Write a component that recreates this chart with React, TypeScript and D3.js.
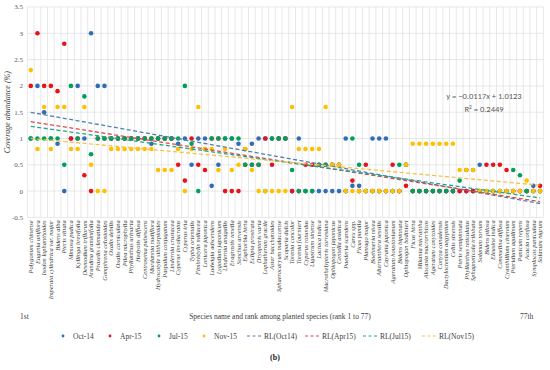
import React from "react";
import * as d3 from "d3";

// species, ranked 1..77
const species = [
  "Polygonum chinense", "Eugenia uniflora", "Isodon lophanthoides", "Imperata cylindrica var. major",
  "Bidens alba", "Pteris vittata", "Mimosa pudica", "Kyllinga brevifolia", "Desmodium triflorum",
  "Arundina graminifolia", "Praxelis clematidea", "Gomphrena celosioides", "Oxalis debilis",
  "Oxalis corniculata", "Pilea microphylla", "Phyllanthus urinaria", "Hedyotis diffusa",
  "Centrosema pubescens", "Murdannia nudiflora", "Hydrocotyle sibthorpioides", "Paspalum conjugatum",
  "Lindernia crustacea", "Cyperus involucratus", "Cyperus iria", "Typha orientalis",
  "Fimbristylis miliacea", "Lonicera japonica", "Ludwigia adscendens", "Lygodium japonicum",
  "Lindernia anagallis", "Eragrostis tenella", "Sonchus arvensis", "Euphorbia hirta",
  "Eclipta prostrata", "Dryopteris varia", "Lophatherum gracile", "Aster baccharoides",
  "Sphaerocaryum malaccense", "Scoparia dulcis", "Torenia concolor", "Torenia fournieri",
  "Cyperus rotundus", "Ligustrum sinense", "Lactuca indica", "Macrothelypteris torresiana",
  "Ophiopogon japonicus", "Centella asiatica", "Paederia scandens", "Carex spp.", "Ficus pumila",
  "Plantago major", "Boehmeria nivea", "Alternanthera sessilis", "Cayratia japonica",
  "Ageratum houstonianum", "Bidens bipinnata", "Ophiopogon bodinieri", "Ficus hirta",
  "Mikania micrantha", "Alocasia macrorrhizos", "Ageratum conyzoides", "Conyza canadensis",
  "Dactyloctenium aegyptium", "Celtis sinensis", "Pteris semipinnata", "Phyllanthus reticulatus",
  "Sphagneticola trilobata", "Solanum torvum", "Bidens pilosa", "Eleusine indica",
  "Commelina diffusa", "Cyanthillium cinereum", "Pteridium aquilinum", "Panicum repens",
  "Acacia confusa", "Symplocos paniculata", "Solanum nigrum",
];

const oct14 = [
  1, 2, 1.5, 1, 0.9, 0, 1, 2, 1, 3, 2, 2, 1, 1, 1, 1, 1, 1, 0.9, 1,
  1, 1, 0.9, 1, 0.5, 1, 1, 0.1, 0.5, 1, 1, 0.9, 0.8, 0.9, 1, 1, 1, 1, 1, 0,
  1, 0, 0, 0, 0, 0, 0, 1, 0.1, 0.1, 0, 1, 1, 1, 0, 0, 0.5, 0, 0, 0,
  0, 0, 0, 0, 0, 0, 0, 0.5, 0, 0, 0, 0, 0, 0, 0, 0.1, 0,
];
const apr15 = [
  2, 3, 2, 2, 1.9, 2.8, 1, 1, 0.3, 0, 1, 1, 1, 1, 1, 1, 1, 1, 1, 1,
  1, 1, 0.5, 0.2, 1, 0.5, 0.4, 1, 1, 0, 0, 0, 0.5, 0.5, 0.5, 1, 0.5, 1, 1, 0,
  0, 0.5, 0.5, 0.5, 0.5, 0.5, 0.5, 0, 0.2, 0, 0.5, 0, 0, 0, 0.5, 0, 0.1, 0, 0, 0,
  0, 0, 0, 0, 0, 0, 0, 0, 0.5, 0.5, 0.5, 0.4, 0, 0, 0, 0, 0.1,
];
const jul15 = [
  1, 1, 1, 1, 1, 0.5, 2, 1, 1.8, 0.7, 1, 1, 1, 1, 1, 1, 1, 1, 1, 1,
  1, 1, 1, 2, 0.9, 0, 0.8, 1, 1, 1, 1, 1, 0.5, 0.5, 0.5, 0, 1, 1, 1, 0.4,
  0, 0, 0, 0.5, 0.5, 0.5, 0.5, 0, 1, 0.5, 0, 0, 0, 0, 0, 0.5, 0.5, 0, 0, 0,
  0, 0, 0, 0, 0.2, 0.4, 0.4, 0, 0, 0, 0, 0, 0.4, 0.3, 0, 0, 0,
];
const nov15 = [
  2.3, 0.8, 1.6, 0.8, 1.6, 1.6, 0.8, 0.8, 1.6, 0.5, 0, 0, 0.8, 0.8, 0.8, 0.8, 0.8, 0.8, 0.8, 0.4,
  0.4, 0.4, 0.8, 0, 0.8, 1.6, 0.8, 0.8, 0.4, 0.8, 0.4, 0.5, 0.8, 0.4, 0, 0, 0, 0, 0, 1.6,
  0.8, 0.8, 0.8, 0.8, 1.6, 0.5, 0.5, 0, 0, 0, 0, 0, 0, 0, 0, 0, 0.5, 0.9, 0.9, 0.9,
  0.9, 0.9, 0.9, 0.9, 0.4, 0.4, 0.4, 0, 0, 0, 0, 0, 0, 0, 0.2, 0, 0,
];

// trend lines (y = slope * rank + intercept)
const rlNames = ["RL(Oct14)", "RL(Apr15)", "RL(Jul15)", "RL(Nov15)"];
const rlSlope = [-0.0228, -0.02, -0.0179, -0.0117];
const rlIntercept = [1.52, 1.34, 1.248, 1.0123];

const seriesNames = ["Oct-14", "Apr-15", "Jul-15", "Nov-15"];
const yTicks = [-0.5, 0, 0.5, 1, 1.5, 2, 2.5, 3, 3.5];

const dotColors = ["#2f6db5", "#e5141c", "#00a05a", "#ffc000"];
const lineColors = ["#4f7fae", "#df4a4e", "#1fa58c", "#f3c24c"];

const serif = "'Liberation Serif', 'Times New Roman', serif";
const sans = "Carlito, Calibri, 'Liberation Sans', Arial, sans-serif";

export default function App() {
  const W = 550, H = 370;
  const x = d3.scaleBand<string>().domain(species).range([27.4, 543.4]);
  const y = d3.scaleLinear().domain([-0.5, 3.5]).range([217.4, 7]);
  const cx = (i: number) => (x(species[i]) as number) + x.bandwidth() / 2;

  const series = [oct14, apr15, jul15, nov15];
  const ranks = [1, species.length];

  const [x0, x1] = x.range();
  const gridX = species.map((s) => x(s) as number).concat([x1]);

  const legendDots = [63, 110, 159, 204];
  const legendLines = [247, 305, 363, 422];

  return (
    <svg width={W} height={H} style={{ position: "absolute", left: 0, top: 0, background: "#fff" }}>
      {/* grid */}
      <g stroke="#d9d9d9" strokeWidth={0.6}>
        {yTicks.map((t) => (
          <line key={"h" + t} x1={x0} x2={x1} y1={y(t)} y2={y(t)} />
        ))}
        {gridX.map((gx, i) => (
          <line key={"v" + i} x1={gx} x2={gx} y1={y(3.5)} y2={y(-0.5)} />
        ))}
      </g>

      {/* y tick labels */}
      <g style={{ fontFamily: serif }} fontSize={7} fill="#595959" textAnchor="end">
        {yTicks.map((t) => (
          <text key={t} x={23} y={y(t) + 2.4}>{t < 0 ? "-" + Math.abs(t) : String(t)}</text>
        ))}
      </g>
      <text transform={`translate(9.5,${y(1.5)}) rotate(-90)`} textAnchor="middle"
        style={{ fontFamily: serif }} fontStyle="italic" fontSize={8} fill="#404040">
        Coverage abundance (%)
      </text>

      {/* species labels */}
      <g style={{ fontFamily: serif }} fontStyle="italic" fontSize={6.4} fill="#404040" textAnchor="end">
        {species.map((s, i) => (
          <text key={s} transform={`translate(${cx(i) + 2.2},${y(-0.5) + 3}) rotate(-90)`}>{s}</text>
        ))}
      </g>

      {/* points */}
      {series.map((vals, si) => (
        <g key={seriesNames[si]} fill={dotColors[si]}>
          {vals.map((v, i) => (
            <circle key={i} cx={cx(i)} cy={y(v)} r={2.3} />
          ))}
        </g>
      ))}

      {/* trend lines */}
      {rlSlope.map((m, k) => (
        <path key={rlNames[k]}
          d={d3.line<number>().x((r) => cx(r - 1)).y((r) => y(m * r + rlIntercept[k]))(ranks) || ""}
          fill="none" stroke={lineColors[k]} strokeWidth={1.3} strokeDasharray="4,2.5" />
      ))}

      {/* equation for Nov-15 */}
      <g style={{ fontFamily: sans }} fontSize={8.5} fill="#595959" textAnchor="middle">
        <text x={484} y={98.5}>y = −0.0117x + 1.0123</text>
        <text x={484} y={111.5}>R<tspan dy={-3} fontSize={5.5}>2</tspan><tspan dy={3}> = 0.2449</tspan></text>
      </g>

      {/* x axis captions */}
      <g style={{ fontFamily: serif }} fontSize={7.5} fill="#404040">
        <text x={20} y={319}>1st</text>
        <text x={280} y={319} textAnchor="middle">Species name and rank among planted species (rank 1 to 77)</text>
        <text x={520} y={319}>77th</text>
      </g>

      {/* legend */}
      <g style={{ fontFamily: serif }} fontSize={7.5} fill="#404040">
        {seriesNames.map((n, k) => (
          <g key={n}>
            <circle cx={legendDots[k]} cy={336} r={1.4} fill={dotColors[k]} />
            <text x={legendDots[k] + 10} y={338.5}>{n}</text>
          </g>
        ))}
        {rlNames.map((n, k) => (
          <g key={n}>
            <line x1={legendLines[k]} x2={legendLines[k] + 16} y1={336} y2={336}
              stroke={lineColors[k]} strokeWidth={1} strokeDasharray="3,2.5" />
            <text x={legendLines[k] + 17} y={338.5}>{n}</text>
          </g>
        ))}
      </g>

      <text x={275} y={360} textAnchor="middle" style={{ fontFamily: serif }} fontSize={8} fontWeight="bold" fill="#222">(b)</text>
    </svg>
  );
}
